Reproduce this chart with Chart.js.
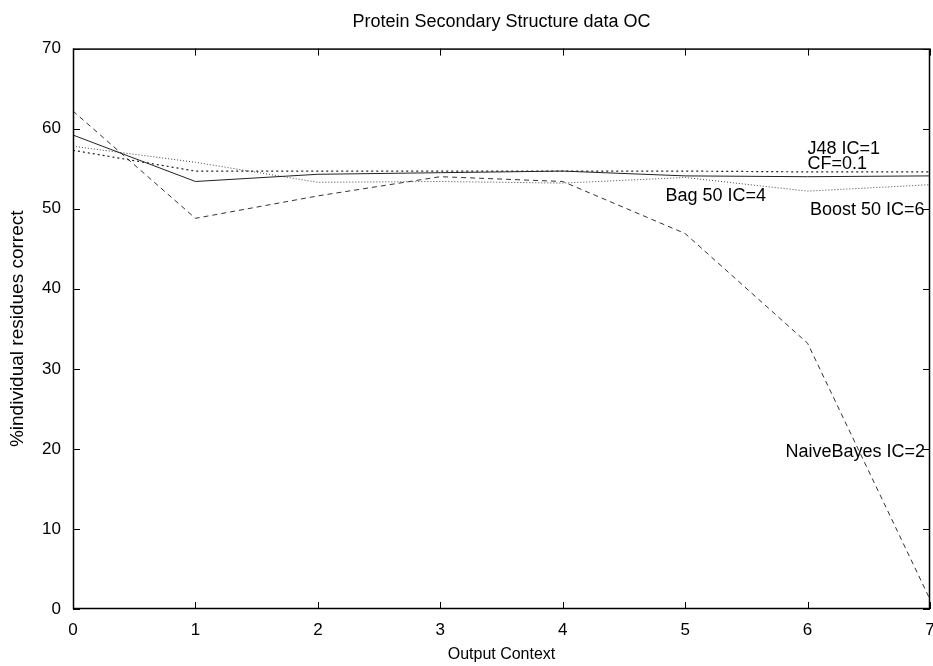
<!DOCTYPE html>
<html>
<head>
<meta charset="utf-8">
<script src="https://cdn.jsdelivr.net/npm/chart.js@4"></script>
<style>
  html, body { margin: 0; padding: 0; background: #fff; }
  #wrap { width: 933px; height: 666px; }
</style>
</head>
<body>
<div id="wrap"><canvas id="chart"></canvas></div>
<script>
const contexts = [0, 1, 2, 3, 4, 5, 6, 7];
const bagValues = [59.2, 53.4, 54.3, 54.5, 54.7, 54.1, 54.0, 54.1];
const j48Values = [57.3, 54.7, 54.7, 54.7, 54.7, 54.7, 54.6, 54.6];
const boostValues = [57.8, 55.8, 53.3, 53.4, 53.2, 53.9, 52.2, 53.0];
const naiveValues = [62.2, 48.8, 51.6, 54.0, 53.4, 46.9, 33.2, 1.2];

// text labels placed inside the plot, in data coordinates
const labelTexts = ["J48 IC=1", "CF=0.1", "Bag 50 IC=4", "Boost 50 IC=6", "NaiveBayes IC=2"];
const labelX = [6.0, 6.0, 4.84, 6.02, 5.82];
const labelY = [58.6, 56.75, 52.75, 50.9, 20.75];

function pts(vals) {
  return contexts.map((c, i) => ({ x: c, y: vals[i] }));
}

const frameAndLabels = {
  id: 'frameAndLabels',
  afterDatasetsDraw(chart) {
    const { ctx, chartArea: a, scales } = chart;
    ctx.save();
    ctx.strokeStyle = '#000';
    ctx.lineWidth = 1.5;
    ctx.strokeRect(a.left + 0.5, a.top + 0.5, a.right - a.left - 1, a.bottom - a.top - 1);
    // inward ticks on all four sides
    const len = 7;
    ctx.lineWidth = 1;
    ctx.beginPath();
    scales.x.ticks.forEach(t => {
      const px = Math.round(scales.x.getPixelForValue(t.value)) + 0.5;
      ctx.moveTo(px, a.bottom); ctx.lineTo(px, a.bottom - len);
      ctx.moveTo(px, a.top); ctx.lineTo(px, a.top + len);
    });
    scales.y.ticks.forEach(t => {
      const py = Math.round(scales.y.getPixelForValue(t.value)) + 0.5;
      ctx.moveTo(a.left, py); ctx.lineTo(a.left + len, py);
      ctx.moveTo(a.right, py); ctx.lineTo(a.right - len, py);
    });
    ctx.stroke();

    ctx.fillStyle = '#000';
    ctx.font = '18px "Liberation Sans", Arial, sans-serif';
    ctx.textBaseline = 'top';
    ctx.textAlign = 'left';
    labelTexts.forEach((txt, i) => {
      ctx.fillText(txt, scales.x.getPixelForValue(labelX[i]), scales.y.getPixelForValue(labelY[i]));
    });
    ctx.restore();
  }
};

const fam = '"Liberation Sans", Arial, sans-serif';
const tickFont = { family: fam, size: 17 };

new Chart(document.getElementById('chart'), {
  type: 'line',
  data: {
    datasets: [
      { label: 'Bag 50 IC=4', data: pts(bagValues), borderColor: '#222', borderWidth: 1, borderDash: [] },
      { label: 'J48 IC=1 CF=0.1', data: pts(j48Values), borderColor: '#222', borderWidth: 1.2, borderDash: [2, 3] },
      { label: 'Boost 50 IC=6', data: pts(boostValues), borderColor: '#444', borderWidth: 1, borderDash: [1, 2] },
      { label: 'NaiveBayes IC=2', data: pts(naiveValues), borderColor: '#333', borderWidth: 1, borderDash: [5, 4] }
    ]
  },
  options: {
    responsive: true,
    maintainAspectRatio: false,
    animation: false,
    elements: { point: { radius: 0 }, line: { tension: 0 } },
    layout: { padding: { right: 3, top: 0, left: 0, bottom: 0 } },
    plugins: {
      legend: { display: false },
      tooltip: { enabled: false },
      title: {
        display: true,
        fullSize: false,
        text: 'Protein Secondary Structure data OC',
        color: '#000',
        font: { family: fam, size: 18, weight: 'normal' },
        padding: { top: 11, bottom: 16 }
      }
    },
    scales: {
      x: {
        type: 'linear',
        min: 0, max: 7,
        ticks: { stepSize: 1, color: '#000', font: tickFont, padding: 11 },
        grid: { display: false, drawTicks: false },
        border: { display: false },
        title: { display: true, text: 'Output Context', color: '#000', font: { family: fam, size: 16 }, padding: { top: 2, bottom: 2 } },
        afterFit(s) { s.height = 57; s.paddingLeft = 0; s.paddingRight = 0; }
      },
      y: {
        min: 0, max: 70,
        ticks: { stepSize: 10, color: '#000', font: tickFont, padding: 12 },
        grid: { display: false, drawTicks: false },
        border: { display: false },
        title: { display: true, text: '%individual residues correct', color: '#000', font: { family: fam, size: 19 }, padding: { top: 6, bottom: 4 } },
        afterFit(s) { s.width = 73; s.paddingTop = 0; s.paddingBottom = 0; }
      }
    }
  },
  plugins: [frameAndLabels]
});
</script>
</body>
</html>
